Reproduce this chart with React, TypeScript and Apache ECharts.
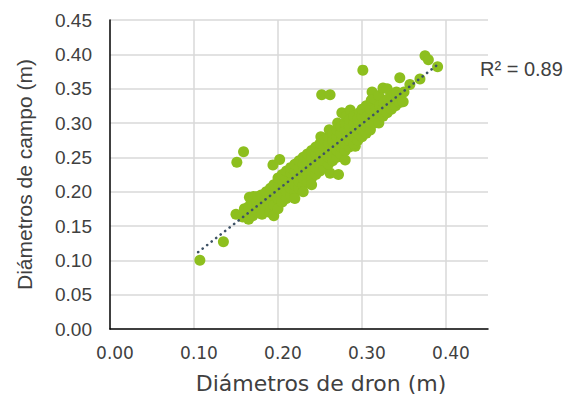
import React, { useEffect, useRef } from "react";
import * as echarts from "echarts";

// Diámetros de dron (x) vs Diámetros de campo (y), metres
const points: [number, number][] = [
  [0.107, 0.100], [0.135, 0.127],
  [0.150, 0.167], [0.151, 0.243], [0.159, 0.258], [0.158, 0.163],
  [0.160, 0.175], [0.165, 0.160], [0.165, 0.178], [0.166, 0.192],
  [0.170, 0.165], [0.170, 0.180], [0.171, 0.193],
  [0.175, 0.170], [0.175, 0.185], [0.176, 0.193],
  [0.180, 0.175], [0.180, 0.195], [0.181, 0.167],
  [0.185, 0.180], [0.185, 0.190], [0.186, 0.200],
  [0.190, 0.170], [0.190, 0.185], [0.190, 0.195], [0.191, 0.205], [0.194, 0.239],
  [0.195, 0.165], [0.195, 0.180], [0.196, 0.200], [0.195, 0.210],
  [0.200, 0.190], [0.200, 0.200], [0.201, 0.210], [0.200, 0.220], [0.202, 0.247], [0.200, 0.175],
  [0.205, 0.195], [0.205, 0.205], [0.206, 0.215], [0.205, 0.225], [0.205, 0.185],
  [0.210, 0.190], [0.210, 0.200], [0.211, 0.210], [0.210, 0.220], [0.210, 0.230],
  [0.215, 0.195], [0.215, 0.205], [0.216, 0.215], [0.215, 0.228], [0.215, 0.235],
  [0.220, 0.200], [0.220, 0.210], [0.221, 0.220], [0.220, 0.230], [0.220, 0.240], [0.220, 0.190],
  [0.225, 0.205], [0.225, 0.215], [0.226, 0.225], [0.225, 0.235], [0.225, 0.245],
  [0.230, 0.210], [0.230, 0.220], [0.231, 0.230], [0.230, 0.240], [0.230, 0.250], [0.230, 0.200],
  [0.235, 0.215], [0.235, 0.225], [0.236, 0.235], [0.235, 0.245], [0.235, 0.255],
  [0.240, 0.220], [0.240, 0.230], [0.241, 0.240], [0.240, 0.250], [0.240, 0.260], [0.240, 0.210],
  [0.245, 0.225], [0.245, 0.235], [0.246, 0.245], [0.245, 0.255], [0.245, 0.265],
  [0.250, 0.230], [0.250, 0.240], [0.251, 0.250], [0.250, 0.260], [0.250, 0.270], [0.251, 0.280], [0.252, 0.341],
  [0.255, 0.235], [0.255, 0.245], [0.256, 0.255], [0.255, 0.265], [0.255, 0.275],
  [0.262, 0.227], [0.260, 0.240], [0.260, 0.250], [0.261, 0.260], [0.260, 0.270], [0.260, 0.280], [0.261, 0.290], [0.262, 0.341],
  [0.265, 0.245], [0.265, 0.255], [0.266, 0.265], [0.265, 0.275], [0.265, 0.285],
  [0.272, 0.225], [0.270, 0.250], [0.270, 0.260], [0.271, 0.270], [0.270, 0.280], [0.270, 0.290], [0.271, 0.300],
  [0.275, 0.255], [0.275, 0.265], [0.276, 0.275], [0.275, 0.285], [0.275, 0.295], [0.276, 0.315],
  [0.280, 0.246], [0.280, 0.260], [0.280, 0.270], [0.281, 0.280], [0.280, 0.290], [0.280, 0.300], [0.281, 0.310],
  [0.285, 0.265], [0.285, 0.275], [0.286, 0.285], [0.285, 0.295], [0.285, 0.305], [0.286, 0.319],
  [0.292, 0.266], [0.290, 0.270], [0.290, 0.280], [0.291, 0.290], [0.290, 0.300], [0.290, 0.310],
  [0.295, 0.275], [0.295, 0.285], [0.296, 0.295], [0.295, 0.305], [0.297, 0.315],
  [0.300, 0.280], [0.300, 0.290], [0.301, 0.300], [0.300, 0.310], [0.300, 0.320], [0.301, 0.377],
  [0.305, 0.285], [0.305, 0.295], [0.306, 0.310], [0.305, 0.325],
  [0.310, 0.290], [0.310, 0.300], [0.311, 0.310], [0.310, 0.320], [0.311, 0.333], [0.312, 0.345],
  [0.315, 0.300], [0.315, 0.310], [0.316, 0.320], [0.315, 0.335],
  [0.320, 0.300], [0.320, 0.315], [0.321, 0.325], [0.320, 0.340],
  [0.325, 0.310], [0.325, 0.320], [0.326, 0.330], [0.325, 0.351],
  [0.330, 0.315], [0.330, 0.325], [0.331, 0.335], [0.330, 0.350],
  [0.335, 0.320], [0.335, 0.330], [0.336, 0.340],
  [0.340, 0.325], [0.340, 0.335], [0.341, 0.345],
  [0.345, 0.330], [0.345, 0.340], [0.345, 0.366],
  [0.349, 0.331], [0.350, 0.345], [0.357, 0.356],
  [0.369, 0.364], [0.375, 0.398], [0.379, 0.392], [0.390, 0.382],
];

// Linear trend line endpoints
const trendLine: [number, number][] = [
  [0.105, 0.112],
  [0.389, 0.384],
];

const rSquaredLabel = "R² = 0.89";
const xAxisTitle = "Diámetros de dron (m)";
const yAxisTitle = "Diámetros de campo (m)";

export default function App() {
  const ref = useRef<HTMLDivElement>(null);

  useEffect(() => {
    document.body.style.margin = "0";
    if (!ref.current) return;
    const chart = echarts.init(ref.current, undefined, { renderer: "svg" });
    const textColor = "#404040";
    chart.setOption({
      animation: false,
      backgroundColor: "#ffffff",
      grid: {
        left: 110,
        right: 86,
        top: 20,
        bottom: 67,
        containLabel: false,
        outerBoundsMode: "none",
      },
      xAxis: {
        type: "value",
        min: 0,
        max: 0.45,
        interval: 0.1,
        name: xAxisTitle,
        nameLocation: "middle",
        nameGap: 43,
        nameTextStyle: {
          fontFamily: "DejaVu Sans",
          fontSize: 22,
          color: textColor,
          padding: [0, 0, 0, 44],
        },
        axisLine: { show: true, lineStyle: { color: "#000000", width: 1.5 } },
        axisTick: { show: false },
        axisLabel: {
          showMaxLabel: false,
          formatter: (v: number) => (v > 0.44 ? "" : v.toFixed(2)),
          fontFamily: "DejaVu Sans",
          fontSize: 17,
          color: textColor,
          margin: 15,
          padding: [0, 0, 0, 10],
        },
        splitLine: {
          show: true,
          showMinLine: false,
          showMaxLine: false,
          lineStyle: { color: "#d9d9d9", width: 1.5 },
        },
      },
      yAxis: {
        type: "value",
        min: 0,
        max: 0.45,
        interval: 0.05,
        name: yAxisTitle,
        nameLocation: "middle",
        nameGap: 75,
        nameTextStyle: {
          fontFamily: "Liberation Sans",
          fontSize: 21,
          color: textColor,
        },
        axisLine: { show: true, lineStyle: { color: "#000000", width: 1.5 } },
        axisTick: { show: false },
        axisLabel: {
          formatter: (v: number) => v.toFixed(2),
          fontFamily: "Liberation Sans",
          fontSize: 19,
          color: textColor,
          margin: 18,
        },
        splitLine: {
          show: true,
          showMinLine: false,
          lineStyle: { color: "#d9d9d9", width: 1.5 },
        },
      },
      series: [
        {
          type: "scatter",
          data: points,
          symbol: "circle",
          symbolSize: 11,
          itemStyle: { color: "#8dbf1e", opacity: 1 },
          z: 2,
        },
        {
          type: "line",
          data: trendLine,
          symbol: "none",
          z: 3,
          lineStyle: {
            color: "#3e5266",
            width: 2.6,
            type: [0.1, 5.6],
            cap: "round",
          },
        },
      ],
      graphic: [
        {
          type: "text",
          left: 480,
          top: 59,
          style: {
            text: rSquaredLabel,
            fontFamily: "Liberation Sans",
            fontSize: 20,
            fill: textColor,
          },
        },
      ],
    });
    return () => chart.dispose();
  }, []);

  return <div ref={ref} style={{ width: 574, height: 396 }} />;
}
